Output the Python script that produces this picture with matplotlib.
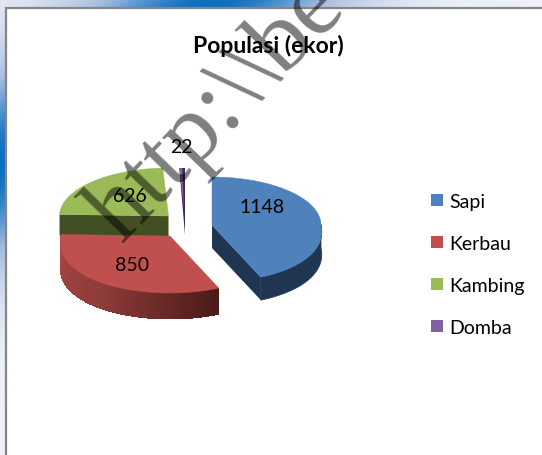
import numpy as np
import matplotlib
matplotlib.use('Agg')
import matplotlib.pyplot as plt
from matplotlib.patches import Polygon, Patch, Rectangle
from matplotlib.colors import LinearSegmentedColormap

#Chart data
categories = ['Sapi', 'Kerbau', 'Kambing', 'Domba']
values = [1148, 850, 626, 22]
title = 'Populasi (ekor)'
watermark = 'http:\\\\be'

#Styles
top_colors = ['#4F81BD', '#C0504D', '#9BBB59', '#8064A2']
side_colors = ['#1F3552', '#8E3B39', '#414F22', '#3D2A5A']
centers = [(212, 226), (170, 237), (168.5, 217), (185, 217)]
label_pos = [(262, 208), (132, 266), (130, 197), (181, 148)]
depth = 23
rx, ry_back, ry_front = 109, 48, 57

#Point on the tilted pie, angle clockwise from the top in degrees
def rim(cx, cy, a):
    a = np.radians(a)
    c = np.cos(a)
    ry = np.where(c > 0, ry_back, ry_front)
    wide = rx * (1 + 0.12 * np.maximum(0, -c))
    return np.column_stack([cx + wide * np.sin(a), cy - ry * c])

fig = plt.figure(figsize=(5.42, 4.56), dpi=100)
ax = fig.add_axes([0, 0, 1, 1])
ax.set_xlim(0, 542)
ax.set_ylim(456, 0)
ax.axis('off')

#Blue page background behind the chart box
xx, yy = np.meshgrid(np.linspace(0, 542, 271), np.linspace(0, 456, 228))
strength = np.exp(-((xx + 1.3 * yy - 215) / 135.0) ** 2)
bg = LinearSegmentedColormap.from_list('bg', ['#EEF1F8', '#A9BEDF', '#0B6FC2'])
ax.imshow(strength, cmap=bg, vmin=0, vmax=1, extent=(0, 542, 456, 0), aspect='auto', zorder=0)
ax.add_patch(Rectangle((6, 9), 560, 470, fc='white', ec='#858585', lw=1.6, zorder=1))

#Slice angles from the values
total = sum(values)
edges = np.concatenate([[0], np.cumsum(values) / total * 360])

for i in [2, 3, 0, 1]:
    a0, a1 = edges[i], edges[i + 1]
    cx, cy = centers[i]
    arc = rim(cx, cy, np.linspace(a0, a1, 120))
    apex = np.array([cx, cy])
    #Side faces first, then the top surface
    if i == 0:
        ax.add_patch(Polygon([apex, arc[-1], arc[-1] + [0, depth], apex + [0, depth]], fc=side_colors[i], zorder=2))
        front = arc[arc[:, 1] >= cy - 1]
        ax.add_patch(Polygon(np.vstack([front, (front + [0, depth])[::-1]]), fc=side_colors[i], ec=side_colors[i], lw=0.5, zorder=2))
    if i == 1:
        shade = LinearSegmentedColormap.from_list('rim', ['#4A1A18', '#8E3B39', '#A84744'])
        for j in range(len(arc) - 1):
            quad = [arc[j], arc[j + 1], arc[j + 1] + [0, depth + 3], arc[j] + [0, depth + 3]]
            ax.add_patch(Polygon(quad, fc=shade(j / (len(arc) - 2)), ec='none', antialiased=False, zorder=2))
    if i == 2:
        ax.add_patch(Polygon([arc[0], apex, apex + [0, depth - 2], arc[0] + [0, depth - 2]], fc=side_colors[i], zorder=2))
    if i == 3:
        #Thin sliver, its side face runs down to a point
        ax.add_patch(Polygon(np.vstack([arc, apex + [0, depth - 4]]), fc=side_colors[i], ec='none', zorder=2))
        ax.add_patch(Polygon(np.vstack([[apex + [-1, -8]], arc[:60]]), fc=top_colors[i], ec='none', zorder=3))
    else:
        ax.add_patch(Polygon(np.vstack([[apex], arc]), fc=top_colors[i], ec=top_colors[i], lw=0.3, zorder=3))
    ax.text(label_pos[i][0], label_pos[i][1], str(values[i]), ha='center', va='center',
            fontsize=14, family='Lato', color='black', zorder=5)

ax.text(268.5, 46, title, ha='center', va='center', fontsize=16.5, family='Lato',
        fontweight='bold', color='black', zorder=5)

handles = [Patch(fc=c, ec='none') for c in top_colors]
ax.legend(handles, categories, loc='upper left', bbox_to_anchor=(431 / 542, 1 - 194 / 456),
          frameon=False, prop={'family': 'Lato', 'size': 14}, handlelength=0.62, handleheight=0.62,
          handletextpad=0.31, labelspacing=1.28, borderpad=0, borderaxespad=0)

#Watermark over everything
ax.text(122, 243, watermark, rotation=46, rotation_mode='anchor', ha='left', va='baseline',
        fontsize=70, family='Liberation Serif', color='black', alpha=0.5, zorder=6, clip_on=True)

plt.savefig('out.png', dpi=100)
